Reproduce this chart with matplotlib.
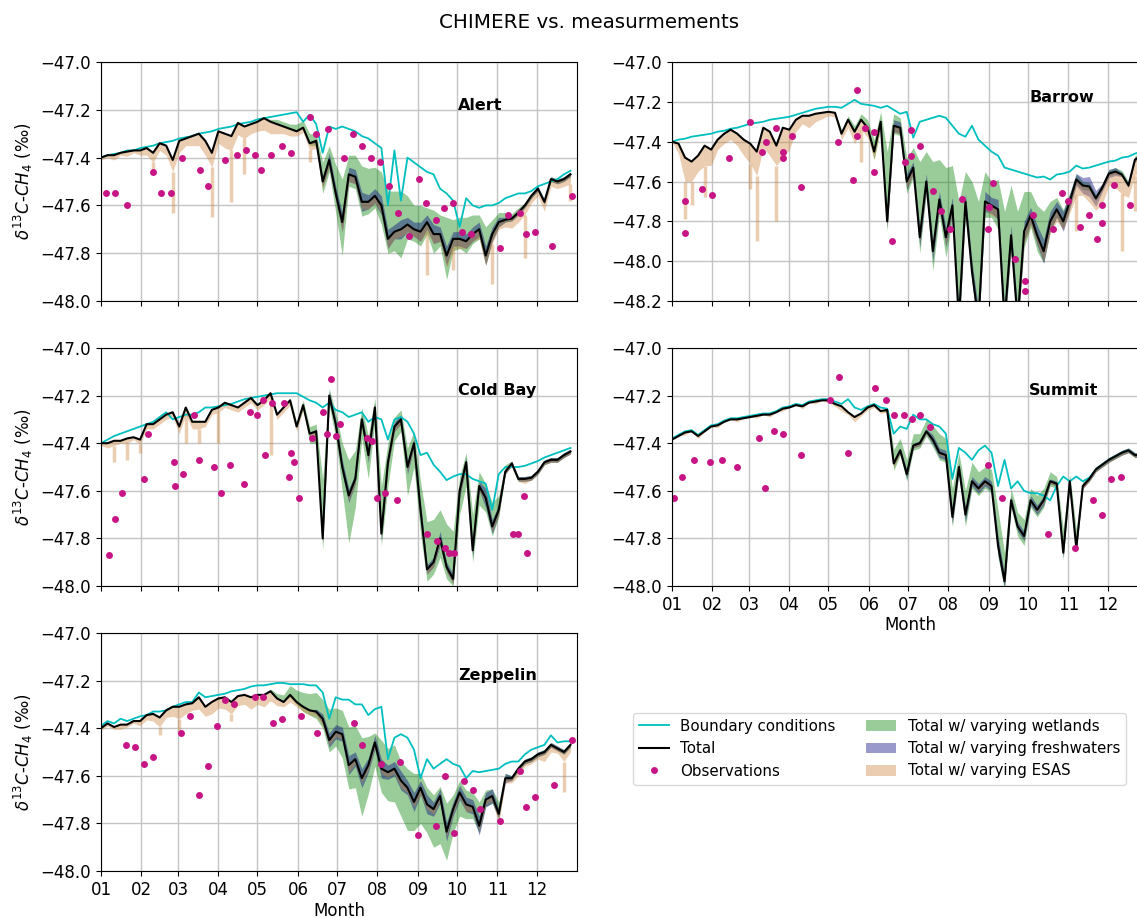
import numpy as np
import matplotlib
matplotlib.use("Agg")
import matplotlib.pyplot as plt
from matplotlib.lines import Line2D
from matplotlib.patches import Patch

# day of year, sampled every 5 days
DAYS = list(range(0, 365, 5))
MONTH_START = [0, 31, 59, 90, 120, 151, 181, 212, 243, 273, 304, 334]
MONTH_LABELS = ['01', '02', '03', '04', '05', '06', '07', '08', '09', '10', '11', '12']

# ---------------- Alert ----------------
alert_bc = [
    -47.40, -47.39, -47.385, -47.38, -47.37, -47.37, -47.36, -47.355, -47.35, -47.34, -47.335, -47.33,
    -47.32, -47.315, -47.31, -47.30, -47.295, -47.29, -47.28, -47.275, -47.27, -47.26, -47.255, -47.25,
    -47.24, -47.235, -47.23, -47.225, -47.22, -47.215, -47.21, -47.25, -47.22, -47.26, -47.38, -47.27,
    -47.28, -47.27, -47.28, -47.29, -47.31, -47.32, -47.34, -47.36, -47.60, -47.37, -47.58, -47.40,
    -47.42, -47.44, -47.46, -47.47, -47.53, -47.55, -47.58, -47.69, -47.57, -47.60, -47.61, -47.60,
    -47.60, -47.59, -47.57, -47.56, -47.55, -47.55, -47.54, -47.52, -47.51, -47.50, -47.49, -47.47,
    -47.455]
alert_tot = [
    -47.40, -47.39, -47.39, -47.38, -47.375, -47.37, -47.37, -47.36, -47.38, -47.34, -47.35, -47.41,
    -47.33, -47.32, -47.31, -47.30, -47.33, -47.38, -47.29, -47.30, -47.31, -47.255, -47.27, -47.26,
    -47.25, -47.235, -47.25, -47.26, -47.27, -47.28, -47.29, -47.275, -47.34, -47.33, -47.50, -47.41,
    -47.55, -47.67, -47.47, -47.48, -47.585, -47.585, -47.56, -47.60, -47.74, -47.71, -47.70, -47.68,
    -47.70, -47.71, -47.67, -47.72, -47.72, -47.81, -47.74, -47.74, -47.75, -47.72, -47.70, -47.81,
    -47.72, -47.67, -47.66, -47.655, -47.63, -47.60, -47.56, -47.53, -47.585, -47.49, -47.50, -47.49,
    -47.47]
alert_wet_up = [0] * 26 + [
    0.01, 0.02, 0.02, 0.02, 0.03, 0.03, 0.04, 0.03, 0.08, 0.06,
    0.12, 0.18, 0.08, 0.09, 0.15, 0.14, 0.12, 0.14, 0.20, 0.17, 0.16, 0.12,
    0.10, 0.11, 0.06, 0.10, 0.08, 0.16, 0.08, 0.09, 0.10, 0.08, 0.06, 0.12,
    0.06, 0.04, 0.03, 0.02, 0.02, 0.01, 0.01, 0.01, 0.01, 0.01, 0.01, 0.01,
    0.01]
alert_wet_dn = [0] * 32 + [
    0.01, 0.02, 0.05, 0.05,
    0.08, 0.14, 0.05, 0.05, 0.06, 0.05, 0.05, 0.08, 0.06, 0.08, 0.12, 0.06,
    0.05, 0.06, 0.05, 0.08, 0.05, 0.10, 0.05, 0.04, 0.05, 0.04, 0.04, 0.04,
    0.03, 0.02, 0.01, 0.01, 0.01, 0.01, 0.01, 0.01, 0.01, 0.01, 0.01, 0.01,
    0.01]
alert_fw = [0] * 33 + [
    0.01, 0.02, 0.03,
    0.03, 0.04, 0.03, 0.03, 0.04, 0.03, 0.03, 0.04, 0.04, 0.03, 0.04, 0.03,
    0.03, 0.04, 0.03, 0.04, 0.03, 0.04, 0.03, 0.03, 0.03, 0.03, 0.03, 0.04,
    0.03, 0.02, 0.01, 0.01, 0.01, 0.01, 0.01, 0.01, 0.01, 0.01, 0.01, 0.01,
    0.01]
alert_esas = [
    0.01, 0.01, 0.02, 0.01, 0.02, 0.01, 0.02, 0.03, 0.04, 0.03, 0.04, 0.05,
    0.05, 0.03, 0.04, 0.05, 0.06, 0.06, 0.05, 0.06, 0.06, 0.05, 0.05, 0.04,
    0.04, 0.05, 0.05, 0.04, 0.03, 0.03, 0.02, 0.02, 0.03, 0.03, 0.03, 0.03,
    0.03, 0.04, 0.03, 0.03, 0.03, 0.03, 0.03, 0.03, 0.04, 0.03, 0.03, 0.03,
    0.03, 0.04, 0.04, 0.04, 0.03, 0.05, 0.04, 0.04, 0.03, 0.03, 0.04, 0.04,
    0.04, 0.03, 0.03, 0.04, 0.04, 0.04, 0.03, 0.03, 0.04, 0.03, 0.03, 0.03,
    0.04]
# narrow ESAS excursions (day, lowest value)
alert_spike_day = [40, 55, 85, 100, 110, 160, 250, 270, 300, 325, 360]
alert_spike_low = [-47.47, -47.63, -47.65, -47.585, -47.47, -47.42, -47.89, -47.87, -47.93, -47.82, -47.58]
alert_obs_day = [4, 11, 20, 40, 46, 54, 62, 76, 82, 95, 104, 111, 118, 123, 130, 139, 146, 160, 165, 174,
                 186, 193, 200, 207, 214, 221, 228, 236, 244, 249, 257, 263, 270, 277, 284, 306, 312, 321,
                 326, 333, 346, 361]
alert_obs = [-47.55, -47.55, -47.60, -47.46, -47.55, -47.55, -47.40, -47.45, -47.52, -47.41,
             -47.39, -47.37, -47.39, -47.45, -47.39, -47.35, -47.38, -47.23, -47.30, -47.28,
             -47.40, -47.30, -47.35, -47.40, -47.42, -47.52, -47.63, -47.73, -47.49, -47.59,
             -47.66, -47.61, -47.59, -47.71, -47.72, -47.78, -47.64, -47.63, -47.72, -47.71,
             -47.77, -47.56]

# ---------------- Barrow ----------------
barrow_bc = [
    -47.40, -47.39, -47.385, -47.375, -47.37, -47.365, -47.36, -47.35, -47.345, -47.335, -47.33, -47.32,
    -47.31, -47.305, -47.30, -47.29, -47.285, -47.28, -47.275, -47.265, -47.255, -47.245, -47.235, -47.23,
    -47.225, -47.225, -47.23, -47.21, -47.19, -47.21, -47.215, -47.22, -47.23, -47.22, -47.24, -47.26,
    -47.25, -47.38, -47.30, -47.29, -47.28, -47.27, -47.28, -47.32, -47.36, -47.375, -47.32, -47.39,
    -47.42, -47.45, -47.47, -47.53, -47.54, -47.55, -47.56, -47.57, -47.58, -47.575, -47.59, -47.565,
    -47.56, -47.55, -47.52, -47.535, -47.53, -47.52, -47.51, -47.50, -47.495, -47.48, -47.475, -47.46,
    -47.45]
barrow_tot = [
    -47.40, -47.41, -47.48, -47.50, -47.47, -47.42, -47.44, -47.39, -47.36, -47.34, -47.36, -47.39,
    -47.41, -47.45, -47.33, -47.35, -47.42, -47.33, -47.34, -47.29, -47.27, -47.27, -47.26, -47.255,
    -47.25, -47.255, -47.36, -47.29, -47.35, -47.29, -47.33, -47.45, -47.30, -47.80, -47.32, -47.33,
    -47.60, -47.53, -47.88, -47.60, -47.95, -47.69, -47.88, -47.72, -48.30, -47.70, -48.05, -48.30,
    -47.70, -47.72, -47.74, -48.30, -47.87, -48.30, -47.85, -47.77, -47.87, -47.95, -47.80, -47.74,
    -47.80, -47.70, -47.59, -47.62, -47.625, -47.685, -47.63, -47.56, -47.55, -47.565, -47.62, -47.49,
    -47.47]
barrow_wet_up = [0] * 26 + [
    0.02, 0.02, 0.03, 0.03, 0.04, 0.06, 0.05, 0.35, 0.06, 0.05,
    0.12, 0.10, 0.38, 0.15, 0.45, 0.20, 0.35, 0.20, 0.60, 0.15, 0.45, 0.60,
    0.15, 0.12, 0.15, 0.55, 0.25, 0.55, 0.20, 0.12, 0.15, 0.20, 0.10, 0.06,
    0.06, 0.04, 0.03, 0.02, 0.02, 0.02, 0.02, 0.02, 0.02, 0.02, 0.02, 0.02,
    0.02]
barrow_wet_dn = [0] * 30 + [
    0.02, 0.04, 0.03, 0.05, 0.04, 0.04,
    0.06, 0.05, 0.08, 0.06, 0.10, 0.08, 0.10, 0.07, 0.05, 0.08, 0.06, 0.05,
    0.08, 0.06, 0.10, 0.05, 0.08, 0.05, 0.08, 0.06, 0.08, 0.06, 0.05, 0.04,
    0.04, 0.03, 0.02, 0.02, 0.02, 0.01, 0.01, 0.01, 0.01, 0.01, 0.01, 0.01,
    0.01]
barrow_fw = [0] * 32 + [
    0.01, 0.03, 0.03, 0.03,
    0.04, 0.03, 0.05, 0.04, 0.05, 0.04, 0.05, 0.04, 0.06, 0.04, 0.05, 0.06,
    0.05, 0.04, 0.05, 0.06, 0.05, 0.06, 0.05, 0.04, 0.05, 0.06, 0.05, 0.04,
    0.05, 0.04, 0.03, 0.04, 0.05, 0.04, 0.02, 0.02, 0.02, 0.01, 0.01, 0.01,
    0.01]
barrow_esas = [
    0.00, 0.05, 0.12, 0.10, 0.08, 0.10, 0.08, 0.05, 0.05, 0.05, 0.06, 0.08,
    0.10, 0.12, 0.10, 0.12, 0.10, 0.15, 0.10, 0.06, 0.04, 0.06, 0.04, 0.03,
    0.02, 0.02, 0.03, 0.04, 0.06, 0.05, 0.05, 0.04, 0.03, 0.03, 0.03, 0.03,
    0.03, 0.04, 0.03, 0.03, 0.02, 0.03, 0.04, 0.03, 0.02, 0.03, 0.03, 0.02,
    0.04, 0.05, 0.04, 0.03, 0.05, 0.02, 0.06, 0.05, 0.04, 0.05, 0.06, 0.06,
    0.04, 0.06, 0.08, 0.05, 0.08, 0.06, 0.08, 0.06, 0.08, 0.10, 0.06, 0.08,
    0.08]
barrow_spike_day = [10, 15, 25, 60, 65, 80, 145, 310, 345, 355]
barrow_spike_low = [-47.79, -47.72, -47.68, -47.64, -47.90, -47.80, -47.50, -47.85, -47.95, -47.75]
barrow_obs_day = [10, 10, 23, 31, 44, 60, 69, 72, 80, 85, 85, 92, 99, 127, 139, 142, 142, 148, 155, 155,
                  169, 179, 183, 183, 190, 200, 206, 213, 222, 242, 243, 246, 263, 271, 271, 277, 292, 299,
                  304, 313, 320, 326, 330, 330, 339, 351]
barrow_obs = [-47.70, -47.86, -47.64, -47.67, -47.48, -47.30, -47.45, -47.40, -47.33, -47.45,
              -47.48, -47.37, -47.63, -47.40, -47.59, -47.14, -47.37, -47.33, -47.35, -47.55,
              -47.90, -47.50, -47.34, -47.47, -47.42, -47.65, -47.75, -47.84, -47.69, -47.84,
              -47.73, -47.61, -47.99, -48.10, -48.15, -47.77, -47.84, -47.66, -47.70, -47.83,
              -47.77, -47.89, -47.72, -47.81, -47.62, -47.72]

# ---------------- Cold Bay ----------------
coldbay_bc = [
    -47.40, -47.385, -47.37, -47.36, -47.35, -47.34, -47.33, -47.32, -47.31, -47.29, -47.27, -47.30,
    -47.29, -47.28, -47.28, -47.27, -47.25, -47.25, -47.245, -47.24, -47.235, -47.225, -47.215, -47.21,
    -47.205, -47.20, -47.195, -47.19, -47.19, -47.19, -47.19, -47.205, -47.22, -47.23, -47.25, -47.23,
    -47.26, -47.27, -47.29, -47.28, -47.27, -47.31, -47.29, -47.30, -47.385, -47.30, -47.29, -47.31,
    -47.36, -47.45, -47.44, -47.49, -47.52, -47.555, -47.54, -47.53, -47.53, -47.55, -47.56, -47.57,
    -47.68, -47.53, -47.50, -47.50, -47.50, -47.495, -47.485, -47.475, -47.46, -47.45, -47.44, -47.43,
    -47.42]
coldbay_tot = [
    -47.40, -47.40, -47.39, -47.39, -47.38, -47.375, -47.385, -47.32, -47.32, -47.30, -47.28, -47.27,
    -47.33, -47.25, -47.31, -47.31, -47.31, -47.26, -47.25, -47.23, -47.24, -47.25, -47.23, -47.21,
    -47.24, -47.22, -47.19, -47.28, -47.25, -47.22, -47.33, -47.24, -47.36, -47.35, -47.80, -47.20,
    -47.32, -47.50, -47.62, -47.55, -47.30, -47.45, -47.25, -47.78, -47.48, -47.33, -47.30, -47.50,
    -47.40, -47.68, -47.93, -47.90, -47.80, -47.92, -47.97, -47.60, -47.48, -47.85, -47.58, -47.63,
    -47.75, -47.68, -47.52, -47.485, -47.55, -47.55, -47.545, -47.52, -47.48, -47.47, -47.47, -47.45,
    -47.435]
coldbay_wet_up = [0] * 29 + [
    0.01, 0.02, 0.02, 0.03, 0.03, 0.25, 0.03,
    0.05, 0.10, 0.15, 0.12, 0.05, 0.08, 0.04, 0.20, 0.08, 0.04, 0.04, 0.08,
    0.05, 0.12, 0.20, 0.18, 0.12, 0.18, 0.20, 0.06, 0.04, 0.15, 0.06, 0.06,
    0.10, 0.06, 0.03, 0.01, 0.01, 0.01, 0.01, 0.01, 0.01, 0.01, 0.01, 0.01,
    0.01]
coldbay_wet_dn = [0] * 31 + [
    0.02, 0.04, 0.05, 0.05, 0.04,
    0.06, 0.10, 0.20, 0.12, 0.08, 0.10, 0.06, 0.05, 0.10, 0.06, 0.05, 0.12,
    0.10, 0.10, 0.05, 0.05, 0.08, 0.05, 0.03, 0.10, 0.10, 0.05, 0.08, 0.06,
    0.04, 0.03, 0.01, 0.01, 0.01, 0.01, 0.01, 0.01, 0.01, 0.01, 0.01, 0.01,
    0.01]
coldbay_fw = [0] * 33 + [
    0.01, 0.02, 0.02,
    0.02, 0.03, 0.03, 0.02, 0.02, 0.03, 0.02, 0.03, 0.02, 0.02, 0.02, 0.03,
    0.02, 0.03, 0.02, 0.02, 0.03, 0.02, 0.02, 0.03, 0.02, 0.03, 0.02, 0.04,
    0.03, 0.02, 0.01, 0.01, 0.01, 0.01, 0.01, 0.01, 0.01, 0.01, 0.01, 0.01,
    0.01]
coldbay_esas = [
    0.01, 0.02, 0.02, 0.01, 0.02, 0.01, 0.02, 0.02, 0.02, 0.02, 0.02, 0.02,
    0.03, 0.03, 0.03, 0.03, 0.02, 0.02, 0.02, 0.02, 0.02, 0.02, 0.02, 0.02,
    0.02, 0.02, 0.02, 0.02, 0.02, 0.02, 0.02, 0.02, 0.02, 0.02, 0.02, 0.02,
    0.02, 0.02, 0.02, 0.02, 0.02, 0.02, 0.02, 0.02, 0.02, 0.02, 0.02, 0.02,
    0.02, 0.02, 0.02, 0.02, 0.02, 0.02, 0.02, 0.02, 0.02, 0.02, 0.02, 0.02,
    0.02, 0.02, 0.01, 0.01, 0.01, 0.02, 0.01, 0.01, 0.01, 0.01, 0.01, 0.01,
    0.01]
coldbay_spike_day = [10, 20, 30, 65, 75, 90, 130]
coldbay_spike_low = [-47.48, -47.47, -47.44, -47.40, -47.40, -47.40, -47.45]
coldbay_obs_day = [6, 11, 16, 33, 36, 56, 57, 63, 71, 75, 87, 92, 99, 110, 114, 120, 124, 126, 131, 140,
                   144, 146, 148, 152, 162, 170, 173, 176, 180, 183, 204, 208, 212, 218, 227, 250, 258,
                   264, 267, 271, 316, 320, 324, 327]
coldbay_obs = [-47.87, -47.72, -47.61, -47.55, -47.36, -47.48, -47.58, -47.53, -47.28, -47.47,
               -47.50, -47.61, -47.49, -47.57, -47.27, -47.28, -47.22, -47.45, -47.23, -47.23,
               -47.54, -47.44, -47.48, -47.63, -47.38, -47.27, -47.36, -47.13, -47.37, -47.32,
               -47.38, -47.39, -47.63, -47.61, -47.64, -47.78, -47.81, -47.84, -47.86, -47.86,
               -47.78, -47.78, -47.62, -47.86]

# ---------------- Summit ----------------
summit_bc = [
    -47.38, -47.365, -47.35, -47.345, -47.365, -47.345, -47.325, -47.32, -47.305, -47.295, -47.295, -47.29,
    -47.285, -47.28, -47.275, -47.275, -47.265, -47.25, -47.245, -47.235, -47.24, -47.225, -47.22, -47.215,
    -47.215, -47.225, -47.235, -47.215, -47.25, -47.26, -47.245, -47.235, -47.25, -47.255, -47.36, -47.33,
    -47.34, -47.28, -47.30, -47.30, -47.32, -47.33, -47.36, -47.55, -47.42, -47.44, -47.47, -47.43,
    -47.41, -47.44, -47.58, -47.47, -47.59, -47.56, -47.60, -47.61, -47.61, -47.62, -47.64, -47.58,
    -47.54, -47.56, -47.54, -47.56, -47.545, -47.51, -47.49, -47.47, -47.455, -47.44, -47.43, -47.45,
    -47.45]
summit_tot = [
    -47.385, -47.37, -47.355, -47.35, -47.37, -47.35, -47.33, -47.325, -47.31, -47.30, -47.30, -47.295,
    -47.29, -47.285, -47.28, -47.28, -47.27, -47.255, -47.25, -47.24, -47.245, -47.23, -47.225, -47.22,
    -47.22, -47.235, -47.245, -47.27, -47.29, -47.275, -47.25, -47.24, -47.265, -47.26, -47.485, -47.43,
    -47.53, -47.41, -47.40, -47.35, -47.385, -47.44, -47.45, -47.71, -47.50, -47.70, -47.56, -47.59,
    -47.56, -47.58, -47.83, -47.98, -47.64, -47.75, -47.79, -47.64, -47.68, -47.64, -47.56, -47.57,
    -47.86, -47.56, -47.84, -47.58, -47.55, -47.51, -47.49, -47.47, -47.455, -47.44, -47.43, -47.45,
    -47.45]
summit_wet_up = [0] * 33 + [
    0.01, 0.06, 0.05,
    0.06, 0.05, 0.04, 0.05, 0.06, 0.08, 0.07, 0.12, 0.06, 0.10, 0.08, 0.07,
    0.06, 0.07, 0.15, 0.12, 0.05, 0.06, 0.07, 0.05, 0.06, 0.05, 0.04, 0.03,
    0.10, 0.03, 0.08, 0.02, 0.01, 0.01, 0.01, 0.01, 0.01, 0.01, 0.01, 0.01,
    0.01]
summit_wet_dn = [0] * 33 + [
    0.01, 0.03, 0.02,
    0.03, 0.02, 0.02, 0.02, 0.03, 0.03, 0.03, 0.04, 0.03, 0.05, 0.03, 0.03,
    0.03, 0.03, 0.05, 0.04, 0.03, 0.04, 0.04, 0.03, 0.03, 0.03, 0.02, 0.02,
    0.03, 0.02, 0.02, 0.01, 0.01, 0.01, 0.01, 0.01, 0.01, 0.01, 0.01, 0.01,
    0.01]
summit_fw = [0] * 34 + [
    0.01, 0.01,
    0.02, 0.01, 0.01, 0.01, 0.02, 0.02, 0.02, 0.03, 0.02, 0.03, 0.02, 0.02,
    0.02, 0.02, 0.04, 0.03, 0.02, 0.02, 0.02, 0.02, 0.02, 0.02, 0.01, 0.01,
    0.02, 0.01, 0.02, 0.01, 0.01, 0.01, 0.01, 0.01, 0.01, 0.01, 0.01, 0.01,
    0.01]
summit_esas = [
    0.00, 0.00, 0.01, 0.00, 0.01, 0.00, 0.00, 0.01, 0.00, 0.00, 0.01, 0.00,
    0.00, 0.01, 0.00, 0.01, 0.00, 0.01, 0.00, 0.00, 0.01, 0.00, 0.01, 0.00,
    0.01, 0.01, 0.02, 0.01, 0.02, 0.01, 0.01, 0.01, 0.01, 0.01, 0.02, 0.01,
    0.01, 0.01, 0.01, 0.01, 0.01, 0.01, 0.01, 0.02, 0.01, 0.01, 0.01, 0.01,
    0.01, 0.01, 0.02, 0.01, 0.01, 0.01, 0.01, 0.01, 0.01, 0.01, 0.01, 0.01,
    0.01, 0.01, 0.01, 0.01, 0.01, 0.01, 0.01, 0.01, 0.01, 0.01, 0.01, 0.01,
    0.01]
summit_spike_day = []
summit_spike_low = []
summit_obs_day = [1.5, 8, 17, 29, 38, 50, 67, 71, 78, 85, 99, 121, 128, 135, 156, 164, 170, 178, 184, 190,
                  198, 242, 253, 288, 309, 323, 330, 337, 344]
summit_obs = [-47.63, -47.54, -47.47, -47.48, -47.47, -47.50, -47.38, -47.59, -47.35, -47.36,
              -47.45, -47.22, -47.12, -47.44, -47.17, -47.22, -47.28, -47.28, -47.30, -47.28,
              -47.33, -47.49, -47.63, -47.78, -47.84, -47.64, -47.70, -47.55, -47.54]

# ---------------- Zeppelin ----------------
zeppelin_bc = [
    -47.39, -47.37, -47.38, -47.36, -47.37, -47.36, -47.35, -47.345, -47.33, -47.33, -47.325, -47.31,
    -47.30, -47.29, -47.29, -47.25, -47.27, -47.265, -47.26, -47.255, -47.245, -47.24, -47.235, -47.225,
    -47.22, -47.22, -47.215, -47.21, -47.21, -47.215, -47.215, -47.215, -47.22, -47.22, -47.25, -47.36,
    -47.27, -47.28, -47.28, -47.30, -47.30, -47.345, -47.32, -47.31, -47.53, -47.44, -47.425, -47.44,
    -47.49, -47.61, -47.53, -47.57, -47.55, -47.53, -47.55, -47.56, -47.61, -47.58, -47.585, -47.58,
    -47.575, -47.57, -47.55, -47.54, -47.54, -47.51, -47.49, -47.48, -47.47, -47.43, -47.46, -47.455,
    -47.455]
zeppelin_tot = [
    -47.40, -47.38, -47.395, -47.385, -47.385, -47.37, -47.37, -47.345, -47.34, -47.355, -47.325, -47.31,
    -47.31, -47.30, -47.295, -47.27, -47.31, -47.29, -47.275, -47.27, -47.29, -47.265, -47.26, -47.27,
    -47.26, -47.26, -47.245, -47.275, -47.29, -47.26, -47.29, -47.31, -47.325, -47.33, -47.36, -47.45,
    -47.415, -47.425, -47.555, -47.53, -47.61, -47.555, -47.46, -47.57, -47.585, -47.57, -47.62, -47.65,
    -47.71, -47.65, -47.72, -47.74, -47.685, -47.835, -47.74, -47.67, -47.72, -47.73, -47.81, -47.70,
    -47.685, -47.76, -47.61, -47.61, -47.57, -47.54, -47.53, -47.51, -47.50, -47.47, -47.485, -47.50,
    -47.47]
zeppelin_wet_up = [0] * 26 + [
    0.01, 0.02, 0.03, 0.04, 0.05, 0.06, 0.07, 0.08, 0.08, 0.13,
    0.10, 0.10, 0.16, 0.14, 0.17, 0.12, 0.04, 0.12, 0.10, 0.10, 0.08, 0.08,
    0.12, 0.06, 0.07, 0.06, 0.04, 0.12, 0.06, 0.05, 0.06, 0.06, 0.10, 0.04,
    0.03, 0.05, 0.02, 0.01, 0.01, 0.01, 0.01, 0.01, 0.01, 0.01, 0.01, 0.01,
    0.01]
zeppelin_wet_dn = [0] * 29 + [
    0.01, 0.01, 0.02, 0.02, 0.03, 0.04, 0.05,
    0.06, 0.10, 0.10, 0.12, 0.16, 0.12, 0.10, 0.10, 0.12, 0.14, 0.15, 0.18,
    0.12, 0.15, 0.12, 0.16, 0.20, 0.12, 0.10, 0.10, 0.06, 0.05, 0.03, 0.03,
    0.03, 0.02, 0.01, 0.01, 0.01, 0.01, 0.01, 0.01, 0.01, 0.01, 0.01, 0.01,
    0.01]
zeppelin_fw = [0] * 33 + [
    0.01, 0.02, 0.03,
    0.03, 0.03, 0.04, 0.03, 0.04, 0.03, 0.03, 0.04, 0.03, 0.03, 0.04, 0.03,
    0.04, 0.03, 0.04, 0.03, 0.03, 0.04, 0.03, 0.03, 0.03, 0.03, 0.04, 0.03,
    0.03, 0.02, 0.02, 0.01, 0.01, 0.01, 0.01, 0.01, 0.01, 0.01, 0.01, 0.01,
    0.01]
zeppelin_esas = [
    0.01, 0.01, 0.01, 0.02, 0.01, 0.01, 0.02, 0.02, 0.03, 0.04, 0.03, 0.04,
    0.05, 0.04, 0.03, 0.05, 0.04, 0.05, 0.04, 0.05, 0.05, 0.04, 0.04, 0.05,
    0.04, 0.05, 0.04, 0.03, 0.02, 0.03, 0.02, 0.02, 0.02, 0.02, 0.03, 0.02,
    0.02, 0.02, 0.03, 0.02, 0.02, 0.02, 0.02, 0.02, 0.02, 0.02, 0.03, 0.02,
    0.02, 0.03, 0.02, 0.02, 0.02, 0.02, 0.02, 0.02, 0.03, 0.02, 0.02, 0.02,
    0.02, 0.04, 0.02, 0.02, 0.03, 0.02, 0.02, 0.02, 0.04, 0.03, 0.02, 0.04,
    0.03]
zeppelin_spike_day = [45, 60, 100, 355]
zeppelin_spike_low = [-47.43, -47.42, -47.37, -47.67]
zeppelin_obs_day = [19, 26, 33, 40, 61, 68, 75, 82, 89, 95, 102, 118, 124, 132, 139, 153, 166, 194, 200, 215,
                    229, 243, 257, 264, 271, 278, 285, 291, 306, 321, 326, 333, 347, 361]
zeppelin_obs = [-47.47, -47.48, -47.55, -47.52, -47.42, -47.35, -47.68, -47.56, -47.39, -47.28,
                -47.30, -47.27, -47.27, -47.38, -47.36, -47.35, -47.42, -47.38, -47.47, -47.55,
                -47.54, -47.85, -47.81, -47.60, -47.84, -47.62, -47.66, -47.74, -47.79, -47.58,
                -47.73, -47.69, -47.64, -47.45]

YTICKS = [-48.0, -47.8, -47.6, -47.4, -47.2, -47.0]
YTICKS_BARROW = [-48.2, -48.0, -47.8, -47.6, -47.4, -47.2, -47.0]

C_BC, C_TOT, C_OBS = 'c', 'k', 'mediumvioletred'
C_WET, C_FW, C_ESAS = 'green', 'navy', 'peru'

W, H = 1137, 918
fig = plt.figure(figsize=(W / 100, H / 100), dpi=100)


def add_ax(left, top, width, height):
    return fig.add_axes([left / W, 1 - (top + height) / H, width / W, height / H])


def draw(ax, name, bc, tot, wet_up, wet_dn, fw, esas, sp_day, sp_low, od, ov,
         yticks, xlabels, ylabel):
    tot = np.array(tot)
    esas = np.array(esas)
    ax.fill_between(DAYS, tot - np.array(wet_dn), tot + np.array(wet_up),
                    color=C_WET, alpha=0.4, lw=0)
    ax.fill_between(DAYS, tot - np.array(fw), tot + np.array(fw),
                    color=C_FW, alpha=0.4, lw=0)
    ax.fill_between(DAYS, tot - esas, tot, color=C_ESAS, alpha=0.4, lw=0)
    if sp_day:
        idx = [DAYS.index(d) for d in sp_day]
        ax.vlines(sp_day, sp_low, tot[idx] - esas[idx], color=C_ESAS, alpha=0.4, lw=2.5)
    ax.plot(DAYS, bc, color=C_BC, lw=1.3)
    ax.plot(DAYS, tot, color=C_TOT, lw=1.5)
    ax.plot(od, ov, 'o', color=C_OBS, ms=5, mec='none')
    ax.set_xlim(0, 365)
    ax.set_ylim(yticks[0], yticks[-1])
    ax.set_yticks(yticks)
    ax.set_yticklabels([f'{v:.1f}'.replace('-', '\u2212') for v in yticks], fontsize=12)
    ax.set_xticks(MONTH_START)
    if xlabels:
        ax.set_xticklabels(MONTH_LABELS, fontsize=12)
        ax.set_xlabel('Month', fontsize=12, labelpad=2)
    else:
        ax.set_xticklabels([])
    if ylabel:
        ax.set_ylabel(r'$\delta^{13}C$-$CH_4$ (‰)', fontsize=12)
    ax.grid(True, color='#c4c4c4', lw=1.0)
    ax.set_axisbelow(True)
    ax.text(274, -47.18, name, fontsize=11.5, fontweight='bold', va='center', ha='left')


ax = add_ax(101, 62, 476, 239)
draw(ax, 'Alert', alert_bc, alert_tot, alert_wet_up, alert_wet_dn, alert_fw, alert_esas,
     alert_spike_day, alert_spike_low, alert_obs_day, alert_obs, YTICKS, False, True)
ax = add_ax(672, 62, 476, 239)
draw(ax, 'Barrow', barrow_bc, barrow_tot, barrow_wet_up, barrow_wet_dn, barrow_fw, barrow_esas,
     barrow_spike_day, barrow_spike_low, barrow_obs_day, barrow_obs, YTICKS_BARROW, False, False)
ax = add_ax(101, 348, 476, 238)
draw(ax, 'Cold Bay', coldbay_bc, coldbay_tot, coldbay_wet_up, coldbay_wet_dn, coldbay_fw, coldbay_esas,
     coldbay_spike_day, coldbay_spike_low, coldbay_obs_day, coldbay_obs, YTICKS, False, True)
ax = add_ax(672, 348, 476, 238)
draw(ax, 'Summit', summit_bc, summit_tot, summit_wet_up, summit_wet_dn, summit_fw, summit_esas,
     summit_spike_day, summit_spike_low, summit_obs_day, summit_obs, YTICKS, True, False)
ax = add_ax(101, 633, 476, 238)
draw(ax, 'Zeppelin', zeppelin_bc, zeppelin_tot, zeppelin_wet_up, zeppelin_wet_dn, zeppelin_fw,
     zeppelin_esas, zeppelin_spike_day, zeppelin_spike_low, zeppelin_obs_day, zeppelin_obs,
     YTICKS, True, True)

fig.text(589 / W, 1 - 22 / H, 'CHIMERE vs. measurmements', ha='center', va='center', fontsize=14.3)

handles = [
    Line2D([], [], color=C_BC, lw=1.3),
    Line2D([], [], color=C_TOT, lw=1.5),
    Line2D([], [], ls='none', marker='o', color=C_OBS, ms=5, mec='none'),
    Patch(facecolor=C_WET, alpha=0.4),
    Patch(facecolor=C_FW, alpha=0.4),
    Patch(facecolor=C_ESAS, alpha=0.4),
]
labels = ['Boundary conditions', 'Total', 'Observations',
          'Total w/ varying wetlands', 'Total w/ varying freshwaters', 'Total w/ varying ESAS']
fig.legend(handles, labels, ncol=2, loc='upper left', bbox_to_anchor=(625 / W, 1 - 705 / H),
           fontsize=10.8, numpoints=1, columnspacing=2.0, edgecolor='#d0d0d0')

fig.savefig('out.png', dpi=100)
